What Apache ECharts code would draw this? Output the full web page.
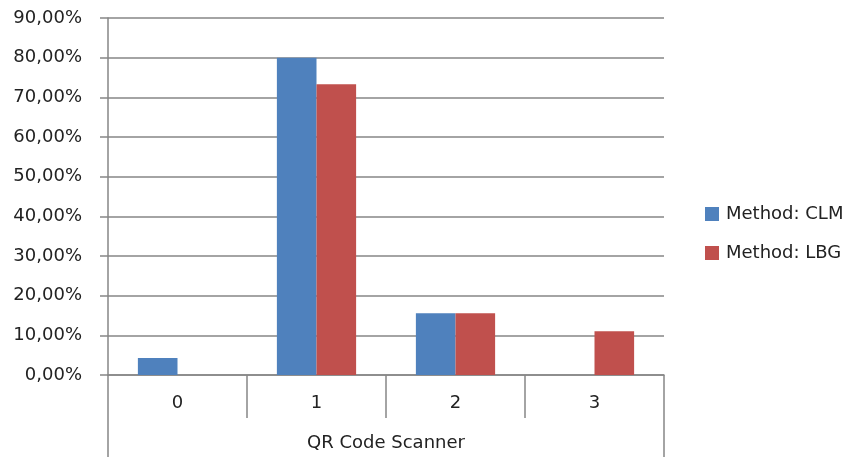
<!DOCTYPE html>
<html><head><meta charset="utf-8">
<script src="https://cdn.jsdelivr.net/npm/echarts@6/dist/echarts.min.js"></script>
<style>html,body{margin:0;padding:0;background:#fff}#c{width:851px;height:457px}</style>
</head><body><div id="c"></div>
<script>
const categories = ['0', '1', '2', '3'];
const groupLabel = ['QR Code Scanner'];
const clm = [4.3, 80.0, 15.55, 0];
const lbg = [0, 73.3, 15.55, 11.0];
const yTicks = { min: 0, max: 90, interval: 10 };

const FONT = 'DejaVu Sans';
const GRAY = '#868686';
const FS = 18;
const chart = echarts.init(document.getElementById('c'), null, { renderer: 'canvas' });
chart.setOption({
  animation: false,
  textStyle: { fontFamily: FONT },
  grid: { left: 108, right: 187, top: 18, bottom: 82 },
  legend: {
    orient: 'vertical', left: 705, top: 205, padding: 0, itemWidth: 14, itemHeight: 14, itemGap: 21,
    icon: 'rect',
    textStyle: { fontFamily: FONT, fontSize: FS, color: '#222', padding: [0, 0, 0, 2] },
    data: ['Method: CLM', 'Method: LBG']
  },
  xAxis: [
    {
      type: 'category', data: categories, position: 'bottom',
      axisLine: { show: true, lineStyle: { color: GRAY, width: 1.5 } },
      axisTick: { show: true, length: 43, lineStyle: { color: GRAY, width: 1.5 } },
      axisLabel: { margin: 19, fontSize: FS, color: '#222', fontFamily: FONT }
    },
    {
      type: 'category', data: groupLabel, position: 'bottom',
      axisLine: { show: false },
      axisTick: { show: true, length: 82, lineStyle: { color: GRAY, width: 1.5 } },
      axisLabel: { margin: 59, fontSize: FS, color: '#222', fontFamily: FONT }
    }
  ],
  yAxis: {
    type: 'value', min: yTicks.min, max: yTicks.max, interval: yTicks.interval,
    axisLine: { show: true, lineStyle: { color: GRAY, width: 1.5 } },
    axisTick: { show: true, length: 8, lineStyle: { color: GRAY, width: 1.5 } },
    splitLine: { show: true, lineStyle: { color: GRAY, width: 1.5 } },
    axisLabel: {
      margin: 26, fontSize: FS, color: '#222', fontFamily: FONT,
      formatter: v => v.toFixed(2).replace('.', ',') + '%'
    }
  },
  series: [
    { name: 'Method: CLM', type: 'bar', data: clm, xAxisIndex: 0, barGap: '0%', barCategoryGap: '43%',
      itemStyle: { color: '#4F81BD' } },
    { name: 'Method: LBG', type: 'bar', data: lbg, xAxisIndex: 0, barGap: '0%', barCategoryGap: '43%',
      itemStyle: { color: '#C0504D' } }
  ]
});
</script></body></html>
